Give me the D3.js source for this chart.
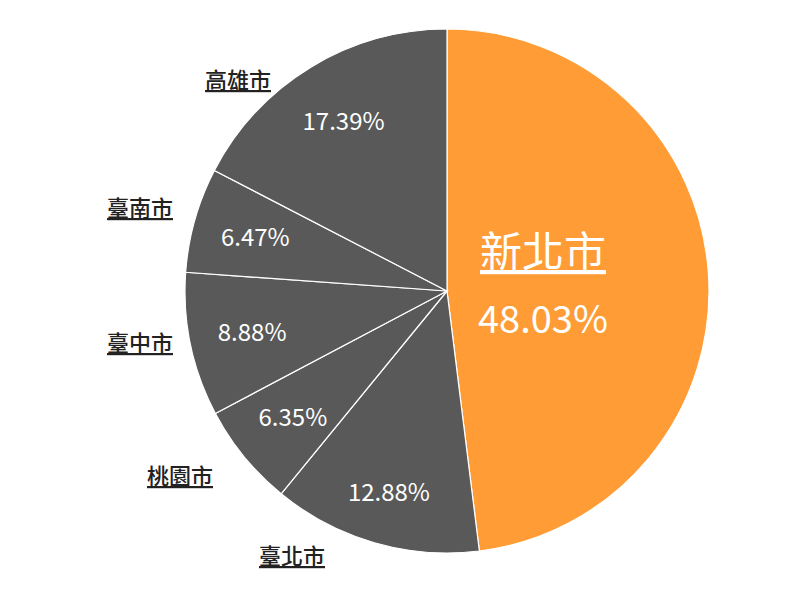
<!DOCTYPE html>
<html><head><meta charset="utf-8">
<script src="https://cdn.jsdelivr.net/npm/d3@7"></script>
<style>body{margin:0;background:#fff}text{font-family:"Noto Sans CJK TC","Noto Sans",sans-serif}</style>
</head><body><svg id="c" width="792" height="594"></svg>
<script>
const cities = ["新北市", "臺北市", "桃園市", "臺中市", "臺南市", "高雄市"];
const shares = [48.03, 12.88, 6.35, 8.88, 6.47, 17.39];
const colors = ["#FF9C35", "#595959", "#595959", "#595959", "#595959", "#595959"];

const cx = 447, cy = 291, r = 262;
// name label placement (layout only), relative to pie centre
const namePos = [null, [-155, 265], [-267, 185], [-307, 52], [-307, -83], [-209, -211]];
const pctRadius = [0, 0.8, 0.76, 0.76, 0.76, 0.76];

const svg = d3.select("#c");
const g = svg.append("g").attr("transform", `translate(${cx},${cy})`);
const data = cities.map((c, i) => ({ city: c, v: shares[i], color: colors[i], i }));
const arcs = d3.pie().sort(null).value(d => d.v)(data);
const arc = d3.arc().innerRadius(0).outerRadius(r);

g.selectAll("path").data(arcs).join("path")
  .attr("d", arc).attr("fill", d => d.data.color)
  .attr("stroke", "#fff").attr("stroke-width", 1.2);

const pos = (d, rr) => {
  const a = (d.startAngle + d.endAngle) / 2;
  return [rr * Math.sin(a), -rr * Math.cos(a)];
};

const big = arcs[0];
g.append("text").attr("x", 96).attr("y", -24).attr("text-anchor", "middle")
  .attr("font-size", 42).attr("fill", "#fff").attr("text-decoration", "underline")
  .text(big.data.city);
g.append("text").attr("x", 96).attr("y", 42).attr("text-anchor", "middle")
  .attr("font-size", 38).attr("fill", "#fff").text(big.data.v.toFixed(2) + "%");

const rest = arcs.slice(1);
g.selectAll("text.pct").data(rest).join("text").attr("class", "pct")
  .attr("x", d => pos(d, pctRadius[d.data.i] * r)[0]).attr("y", d => pos(d, pctRadius[d.data.i] * r)[1] + 9)
  .attr("text-anchor", "middle").attr("font-size", 24).attr("fill", "#fff")
  .text(d => d.data.v.toFixed(2) + "%");

g.selectAll("text.name").data(rest).join("text").attr("class", "name")
  .attr("x", d => namePos[d.data.i][0]).attr("y", d => namePos[d.data.i][1] + 8)
  .attr("text-anchor", "middle").attr("font-size", 22).attr("font-weight", 500).attr("fill", "#222")
  .attr("text-decoration", "underline")
  .text(d => d.data.city);
</script></body></html>
